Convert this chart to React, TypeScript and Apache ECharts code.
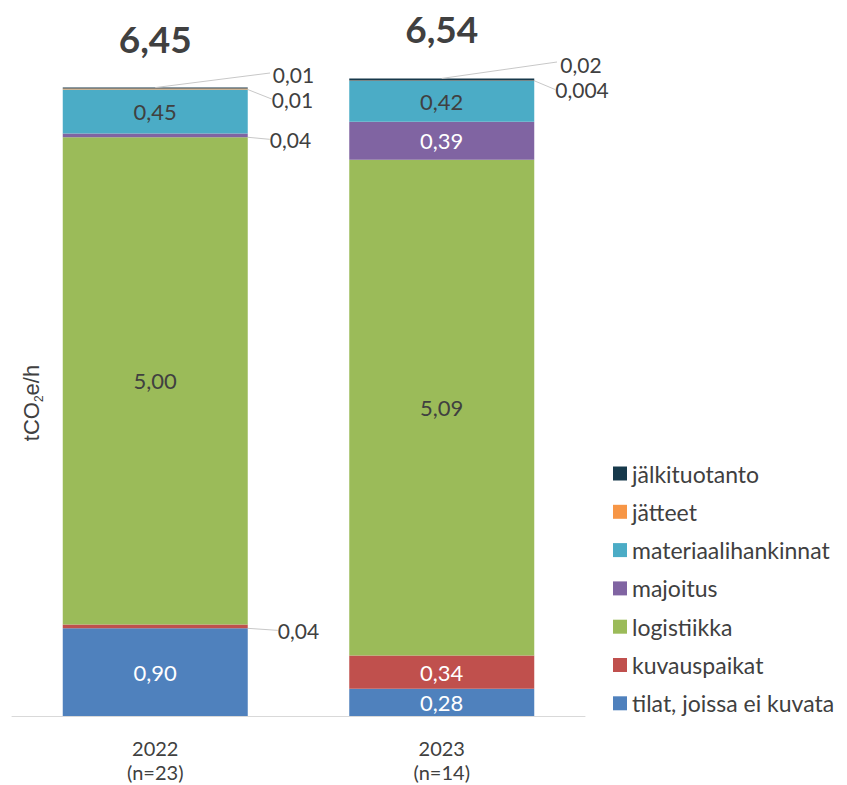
import React, { useEffect, useRef } from "react";
import * as echarts from "echarts";

const categories = ["2022\n(n=23)", "2023\n(n=14)"];

// stacking order, bottom to top
const seriesNames = [
  "tilat, joissa ei kuvata",
  "kuvauspaikat",
  "logistiikka",
  "majoitus",
  "materiaalihankinnat",
  "jätteet",
  "jälkituotanto",
];
const tilat = [0.9, 0.28];
const kuvauspaikat = [0.04, 0.34];
const logistiikka = [5.0, 5.09];
const majoitus = [0.04, 0.39];
const materiaalihankinnat = [0.45, 0.42];
const jatteet = [0.01, 0.004];
const jalkituotanto = [0.01, 0.02];

const seriesValues = [tilat, kuvauspaikat, logistiikka, majoitus, materiaalihankinnat, jatteet, jalkituotanto];
const seriesColors = ["#4f81bd", "#c0504d", "#9bbb59", "#8064a2", "#4bacc6", "#f79646", "#17394b"];
const insideLabelColors = ["#ffffff", "#ffffff", "#404040", "#ffffff", "#404040", "#404040", "#ffffff"];

const totals = categories.map((_, i) => seriesValues.reduce((s, arr) => s + arr[i], 0));

const FONT = "Lato, 'Open Sans', sans-serif";
const TEXT = "#404040";
const LEADER = "#c8c8c8";

const fmt = (v: number) => (v < 0.01 ? v.toFixed(3) : v.toFixed(2)).replace(".", ",");

// label offsets (dx, dy) for small values drawn outside the bar, keyed "series-data"
const outsideOffsets: Record<string, [number, number]> = {
  "6-0": [20, -14],
  "5-0": [19, 10],
  "3-0": [17, 4],
  "1-0": [25, 4],
  "6-1": [21, -15],
  "5-1": [16, 9],
};

export default function App() {
  const ref = useRef<HTMLDivElement>(null);
  useEffect(() => {
    document.body.style.margin = "0";
    if (!ref.current) return;
    const chart = echarts.init(ref.current, undefined, { renderer: "svg" });

    const barSeries: any[] = seriesNames.map((name, si) => ({
      name,
      type: "bar",
      stack: "total",
      barWidth: 185,
      itemStyle: { color: seriesColors[si] },
      label: {
        show: true,
        position: "inside",
        color: insideLabelColors[si],
        fontFamily: FONT,
        fontSize: 22,
        formatter: (p: any) => fmt(p.value),
      },
      labelLine: { show: true, lineStyle: { color: LEADER, width: 1 } },
      labelLayout: (params: any) => {
        const off = outsideOffsets[`${si}-${params.dataIndex}`];
        if (!off) return {};
        return { dx: off[0], dy: off[1] };
      },
      data: seriesValues[si].map((v) =>
        v < 0.1
          ? {
              value: v,
              label: { position: "right", color: TEXT, distance: 5, fontSize: 21, lineHeight: 20 },
              labelLine: { show: si !== 6 },
            }
          : v
      ),
      emphasis: { disabled: true },
      ...(si === 6
        ? {
            markLine: {
              silent: true,
              symbol: ["none", "none"],
              label: { show: false },
              lineStyle: { color: LEADER, type: "solid", width: 1 },
              emphasis: { disabled: true },
              data: [
                [{ coord: [0, totals[0]] }, { x: 270, y: 73 }],
                [{ coord: [1, totals[1]] }, { x: 557, y: 62 }],
              ],
            },
          }
        : {}),
    }));

    const totalSeries = {
      name: "total",
      type: "bar",
      stack: "total",
      barWidth: 185,
      itemStyle: { color: "transparent" },
      label: {
        show: true,
        position: "top",
        distance: 31,
        fontFamily: FONT,
        fontSize: 37,
        fontWeight: "bold",
        color: TEXT,
        formatter: (p: any) => totals[p.dataIndex].toFixed(2).replace(".", ","),
      },
      data: categories.map(() => 0),
      emphasis: { disabled: true },
    };

    chart.setOption({
      animation: false,
      grid: { left: 12, right: 262, top: 34, bottom: 69 },
      xAxis: {
        type: "category",
        data: categories,
        axisLine: { lineStyle: { color: "#d9d9d9", width: 1 } },
        axisTick: { show: false },
        axisLabel: { color: TEXT, fontFamily: FONT, fontSize: 20, lineHeight: 24, margin: 20 },
      },
      yAxis: {
        type: "value",
        min: 0,
        max: 7,
        axisLine: { show: false },
        axisTick: { show: false },
        axisLabel: { show: false },
        splitLine: { show: false },
      },
      legend: {
        orient: "vertical",
        left: 608,
        top: 457,
        icon: "rect",
        itemWidth: 14,
        itemHeight: 14,
        itemGap: 15.3,
        data: [...seriesNames].reverse(),
        selectedMode: false,
        textStyle: { color: TEXT, fontFamily: FONT, fontSize: 23, lineHeight: 22 },
      },
      graphic: [
        {
          type: "text",
          x: 29,
          y: 403,
          rotation: Math.PI / 2,
          style: {
            text: "{a|tCO}{b|2}{a|e/h}",
            align: "center",
            verticalAlign: "middle",
            fill: TEXT,
            rich: {
              a: { fontSize: 22, fontFamily: "'Liberation Sans', Arial, sans-serif", fill: TEXT, lineHeight: 26, verticalAlign: "bottom" },
              b: { fontSize: 12, fontFamily: "'Liberation Sans', Arial, sans-serif", fill: TEXT, lineHeight: 26, verticalAlign: "bottom", padding: [0, 0, -3, 0] },
            },
          },
        },
      ],
      series: [...barSeries, totalSeries],
    });
    return () => chart.dispose();
  }, []);
  return <div ref={ref} style={{ width: 847, height: 785 }} />;
}
